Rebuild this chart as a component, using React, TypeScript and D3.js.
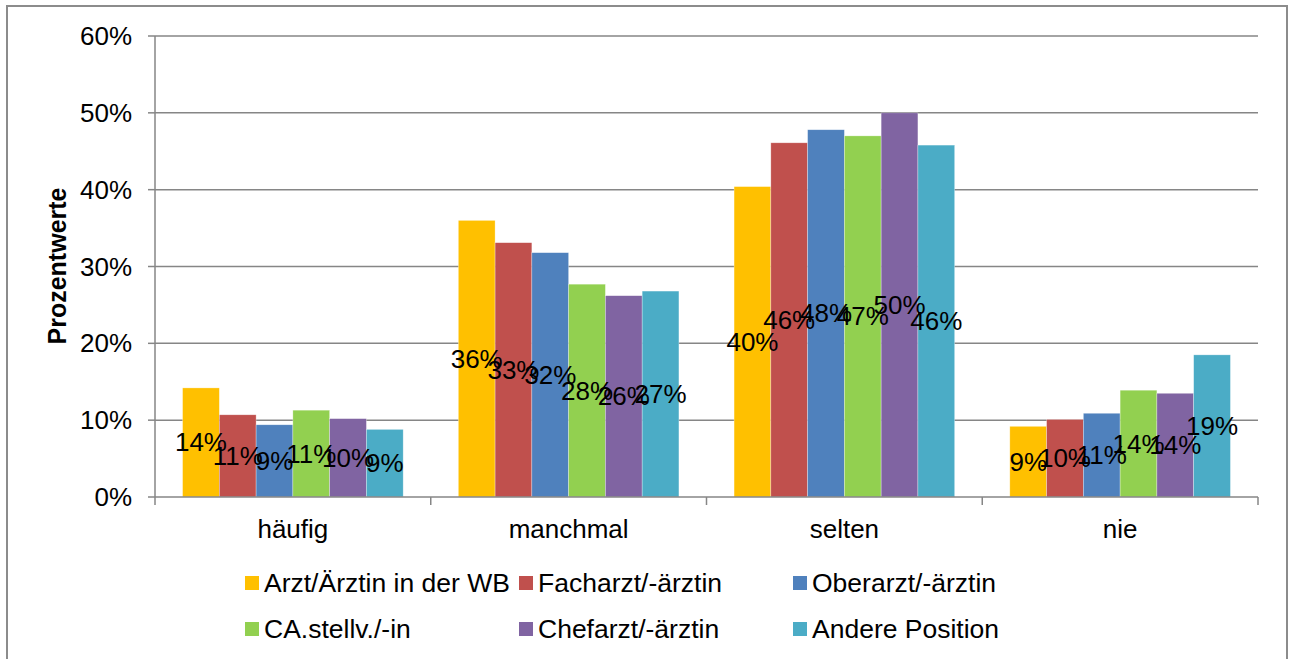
import React from "react";
import * as d3 from "d3";

const categories = ["häufig", "manchmal", "selten", "nie"];
const seriesNames = [
  "Arzt/Ärztin in der WB",
  "Facharzt/-ärztin",
  "Oberarzt/-ärztin",
  "CA.stellv./-in",
  "Chefarzt/-ärztin",
  "Andere Position",
];
const seriesColors = ["#FFC000", "#C0504D", "#4F81BD", "#92D050", "#8064A2", "#4BACC6"];
// values per series, in order of categories
const arztWB = [14.2, 36.0, 40.4, 9.2];
const facharzt = [10.7, 33.1, 46.1, 10.1];
const oberarzt = [9.4, 31.8, 47.8, 10.9];
const caStellv = [11.3, 27.7, 47.0, 13.9];
const chefarzt = [10.2, 26.2, 50.0, 13.5];
const andere = [8.8, 26.8, 45.8, 18.5];
const seriesValues = [arztWB, facharzt, oberarzt, caStellv, chefarzt, andere];
const yTicks = [0, 10, 20, 30, 40, 50, 60];

const W = 1291;
const H = 659;
const plotLeft = 155;
const plotRight = 1258;
const plotTop = 36;
const plotBottom = 497;
const FONT = "'Liberation Sans', Arial, sans-serif";

export default function App() {
  const x0 = d3.scaleBand<string>().domain(categories).range([plotLeft, plotRight]).padding(0);
  const catW = x0.bandwidth();
  const barW = catW / 7.5;
  const x1 = d3
    .scaleBand<number>()
    .domain(d3.range(seriesNames.length))
    .range([barW * 0.75, catW - barW * 0.75])
    .padding(0);
  const y = d3.scaleLinear().domain([0, 60]).range([plotBottom, plotTop]);
  const grid = "#868686";

  const legendCols = [245, 519, 793];
  const legendRows = [583, 629];

  return (
    <svg
      width={W}
      height={H}
      style={{ position: "absolute", left: 0, top: 0, background: "#fff" }}
      fontFamily={FONT}
    >
      <rect x={0} y={0} width={W} height={H} fill="#fff" />
      {/* outer frame */}
      <path d={`M7,${H + 5} L7,6 L1287,6 L1287,${H + 5}`} fill="none" stroke="#8c8c8c" strokeWidth={2} />

      {/* gridlines */}
      {yTicks.map((t) => (
        <g key={t}>
          {t > 0 && (
            <line x1={plotLeft} x2={plotRight} y1={y(t)} y2={y(t)} stroke={grid} strokeWidth={1.5} />
          )}
          <line x1={plotLeft - 7} x2={plotLeft} y1={y(t)} y2={y(t)} stroke={grid} strokeWidth={1.5} />
          <text
            x={132}
            y={y(t)}
            textAnchor="end"
            dominantBaseline="central"
            fontSize={26}
            fill="#000"
          >
            {t}%
          </text>
        </g>
      ))}

      {/* bars */}
      {categories.map((c, ci) => (
        <g key={c} transform={`translate(${x0(c)},0)`}>
          {seriesValues.map((vals, si) => (
            <rect
              key={si}
              x={x1(si)}
              y={y(vals[ci])}
              width={x1.bandwidth()}
              height={plotBottom - y(vals[ci])}
              fill={seriesColors[si]}
              stroke="#ffffff"
              strokeOpacity={0.5}
              strokeWidth={0.6}
            />
          ))}
        </g>
      ))}

      {/* axes */}
      <line x1={plotLeft} x2={plotLeft} y1={plotTop} y2={plotBottom} stroke={grid} strokeWidth={1.5} />
      <line x1={plotLeft} x2={plotRight} y1={plotBottom} y2={plotBottom} stroke={grid} strokeWidth={1.5} />
      {[...categories.map((c) => x0(c) as number), plotRight].map((xv, i) => (
        <line key={i} x1={xv} x2={xv} y1={plotBottom} y2={plotBottom + 8} stroke={grid} strokeWidth={1.5} />
      ))}
      {categories.map((c) => (
        <text
          key={c}
          x={(x0(c) as number) + catW / 2}
          y={538}
          textAnchor="middle"
          fontSize={26}
          fill="#000"
        >
          {c}
        </text>
      ))}

      {/* data labels */}
      {categories.map((c, ci) => (
        <g key={c} transform={`translate(${x0(c)},0)`}>
          {seriesValues.map((vals, si) => (
            <text
              key={si}
              x={(x1(si) as number) + x1.bandwidth() / 2}
              y={(y(vals[ci]) + plotBottom) / 2}
              textAnchor="middle"
              dominantBaseline="central"
              fontSize={26}
              fill="#000"
            >
              {Math.round(vals[ci])}%
            </text>
          ))}
        </g>
      ))}

      {/* y title */}
      <text
        transform={`translate(57,266) rotate(-90)`}
        textAnchor="middle"
        dominantBaseline="central"
        fontSize={25}
        fontWeight="bold"
        fill="#000"
      >
        Prozentwerte
      </text>

      {/* legend */}
      {seriesNames.map((name, i) => {
        const col = i % 3;
        const row = Math.floor(i / 3);
        const lx = legendCols[col];
        const ly = legendRows[row];
        return (
          <g key={name}>
            <rect x={lx} y={ly - 7} width={14} height={14} fill={seriesColors[i]} />
            <text x={lx + 19} y={ly} dominantBaseline="central" fontSize={26.5} fill="#000">
              {name}
            </text>
          </g>
        );
      })}
    </svg>
  );
}
